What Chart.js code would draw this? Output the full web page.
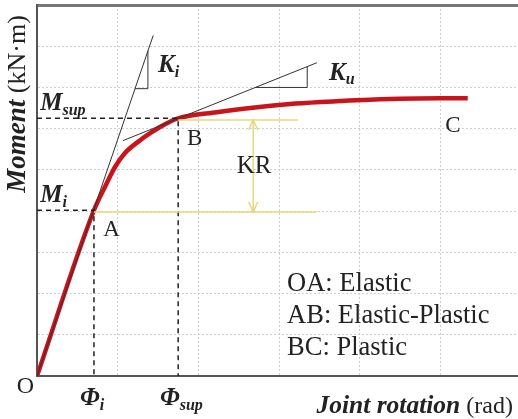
<!DOCTYPE html>
<html>
<head>
<meta charset="utf-8">
<script src="https://cdn.jsdelivr.net/npm/chart.js@4"></script>
<style>
  html, body { margin: 0; padding: 0; overflow: hidden; background: #fff; }
  #wrap { width: 525px; height: 419px; }
</style>
</head>
<body>
<div id="wrap"><canvas id="chart"></canvas></div>
<script>
// moment-rotation curve (schematic units)
const curveX = [0, 0.706, 0.843, 0.967, 1.091, 1.252, 1.426, 1.587, 1.748, 2.23, 2.73, 3.2, 3.75, 4.37, 5.34];
const curveY = [0, 4.02, 4.59, 5.07, 5.41, 5.68, 5.92, 6.11, 6.25, 6.40, 6.52, 6.61, 6.67, 6.72, 6.74];

// key points
const pointA = [0.706, 4.02];
const pointB = [1.75, 6.25];

// tangent lines and slope triangles
const kiLineX = [0, 1.44];
const kiLineY = [0, 8.26];
const kiTriX = [1.215, 1.375, 1.375];
const kiTriY = [6.97, 6.97, 7.89];
const kuLineX = [1.066, 3.47];
const kuLineY = [5.71, 7.60];
const kuTriX = [2.71, 3.35, 3.35];
const kuTriY = [7.0, 7.0, 7.50];

// KR range guides
const krUpperX = [1.75, 3.235];
const krUpperY = [6.21, 6.21];
const krLowerX = [0.706, 3.47];
const krLowerY = [3.98, 3.98];
const krArrowX = [2.68, 2.68];
const krArrowY = [6.21, 3.98];
const krHeadTopX = [2.624, 2.68, 2.736];
const krHeadTopY = [5.97, 6.21, 5.97];
const krHeadBotX = [2.624, 2.68, 2.736];
const krHeadBotY = [4.22, 3.98, 4.22];

const legendLines = ['OA: Elastic', 'AB: Elastic-Plastic', 'BC: Plastic'];

function pts(xs, ys) {
  return xs.map((x, i) => ({ x: x, y: ys[i] }));
}

function line(xs, ys, color, width, dash) {
  return {
    data: pts(xs, ys),
    showLine: true,
    borderColor: color,
    borderWidth: width,
    borderDash: dash || [],
    pointRadius: 0,
    fill: false
  };
}

const SERIF = '"Liberation Serif", "DejaVu Serif", serif';
const TXT = '#222';

// draws a run of text pieces left to right, each piece [text, font, dy]
function rich(ctx, parts, x, y, align) {
  let w = 0;
  parts.forEach(p => { ctx.font = p[1]; w += ctx.measureText(p[0]).width; });
  let cx = align === 'center' ? x - w / 2 : align === 'right' ? x - w : x;
  parts.forEach(p => {
    ctx.font = p[1];
    ctx.fillText(p[0], cx, y + (p[2] || 0));
    cx += ctx.measureText(p[0]).width;
  });
}

const labelsPlugin = {
  id: 'labels',
  afterDatasetsDraw(chart) {
    const ctx = chart.ctx;
    const xs = chart.scales.x, ys = chart.scales.y;
    const X = v => xs.getPixelForValue(v);
    const Y = v => ys.getPixelForValue(v);
    const big = 'bold italic 25px ' + SERIF;
    const sub = 'bold italic 16px ' + SERIF;
    const reg = '23px ' + SERIF;
    ctx.save();
    ctx.fillStyle = TXT;
    ctx.textBaseline = 'alphabetic';

    rich(ctx, [['K', big], ['i', sub, 5]], X(1.50), Y(7.38));
    rich(ctx, [['K', big], ['u', sub, 4]], X(3.62), Y(7.18));
    rich(ctx, [['M', big], ['sup', sub, 5]], X(0.04), Y(6.45));
    rich(ctx, [['M', big], ['i', sub, 5]], X(0.04), Y(4.22));

    rich(ctx, [['A', reg]], X(0.82), Y(3.40));
    rich(ctx, [['B', reg]], X(1.86), Y(5.60));
    rich(ctx, [['C', reg]], X(5.06), Y(5.92));
    rich(ctx, [['O', '24px ' + SERIF]], X(-0.25), Y(-0.41));
    rich(ctx, [['KR', '25px ' + SERIF]], X(2.69), Y(4.92), 'center');

    rich(ctx, [['\u03A6', big], ['i', sub, 5]], X(0.533), Y(-0.70));
    rich(ctx, [['\u03A6', big], ['sup', sub, 5]], X(1.525), Y(-0.70));

    legendLines.forEach((t, i) => {
      rich(ctx, [[t, '26.5px ' + SERIF]], X(3.10), Y(2.06 - i * 0.775));
    });

    rich(ctx, [['Joint rotation', 'bold italic 25.5px ' + SERIF], [' (rad)', '24px ' + SERIF]],
      X(5.90), Y(-0.90), 'right');

    ctx.translate(X(-0.248) + 8, Y(6.6));
    ctx.rotate(-Math.PI / 2);
    rich(ctx, [['Moment', 'bold italic 27px ' + SERIF], [' (kN\u00B7m)', '26px ' + SERIF]], 0, 0, 'center');
    ctx.restore();
  }
};

const axisGrid = {
  color: '#cfcfcf',
  lineWidth: 1,
  drawTicks: false
};

new Chart(document.getElementById('chart'), {
  type: 'scatter',
  data: {
    datasets: [
      line(krUpperX, krUpperY, '#e8d67c', 1.5),
      line(krLowerX, krLowerY, '#e8d67c', 1.5),
      line(krArrowX, krArrowY, '#e8d67c', 1.5),
      line(krHeadTopX, krHeadTopY, '#e8d67c', 1.5),
      line(krHeadBotX, krHeadBotY, '#e8d67c', 1.5),
      line([0, pointB[0], pointB[0]], [pointB[1], pointB[1], 0], '#222', 1.5, [5, 4]),
      line([0, pointA[0], pointA[0]], [pointA[1], pointA[1], 0], '#222', 1.5, [5, 4]),
      line(kiLineX, kiLineY, '#333', 1),
      line(kiTriX, kiTriY, '#333', 1),
      line(kuLineX, kuLineY, '#333', 1),
      line(kuTriX, kuTriY, '#333', 1),
      Object.assign(line(curveX, curveY, '#c8141a', 4.5), {
        cubicInterpolationMode: 'monotone'
      })
    ]
  },
  options: {
    responsive: true,
    maintainAspectRatio: false,
    animation: false,
    events: [],
    layout: { padding: { left: 37, right: 4, top: 5, bottom: 43 } },
    plugins: { legend: { display: false }, tooltip: { enabled: false } },
    scales: {
      x: {
        type: 'linear', min: 0, max: 6,
        ticks: { display: false, stepSize: 1 },
        grid: axisGrid,
        border: { display: true, color: '#555', width: 2, dash: [2, 2] }
      },
      x2: {
        type: 'linear', position: 'top', min: 0, max: 6,
        ticks: { display: false },
        grid: { display: false, drawTicks: false },
        border: { display: true, color: '#777', width: 3 }
      },
      y: {
        type: 'linear', min: 0, max: 9,
        ticks: { display: false, stepSize: 1 },
        grid: axisGrid,
        border: { display: true, color: '#555', width: 2, dash: [2, 2] }
      }
    }
  },
  plugins: [labelsPlugin]
});
</script>
</body>
</html>
